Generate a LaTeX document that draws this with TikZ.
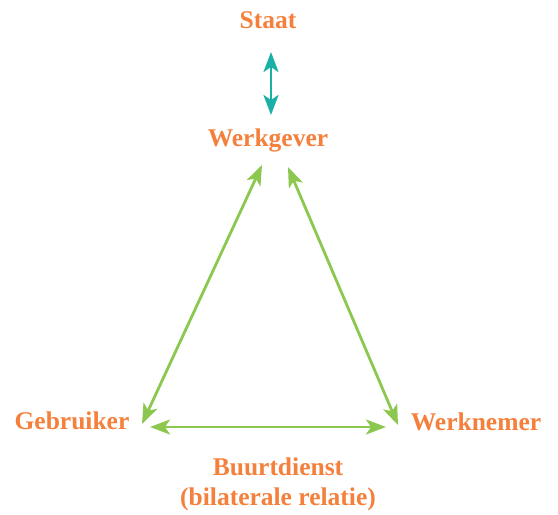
\documentclass[tikz,border=0pt]{standalone}
\usepackage{fontspec}
\setmainfont{Liberation Serif}
\usetikzlibrary{arrows.meta}
\definecolor{lbl}{HTML}{F4803C}
\definecolor{grn}{HTML}{8CC850}
\definecolor{tea}{HTML}{1AB0A6}
\begin{document}
\begin{tikzpicture}[x=1pt,y=-1pt,
  lab/.style={text=lbl,font=\fontsize{25.5}{30}\selectfont\bfseries,align=center,inner sep=0pt},
  tip/.tip={Stealth[length=20pt,width=15pt,inset=5pt]},
  garrow/.style={draw=grn,line width=2.8pt,tip-tip},
  tarrow/.style={draw=tea,line width=2.8pt,tip-tip}]
\useasboundingbox (0,0) rectangle (558,515);
\node[lab] (staat) at (268,20) {Staat};
\node[lab] (werkgever) at (268,140) {Werkgever};
\node[lab] (gebruiker) at (72,421) {Gebruiker};
\node[lab] (werknemer) at (476,422) {Werknemer};
\node[lab] (buurt) at (278,484) {Buurtdienst\\(bilaterale relatie)};
\coordinate (t1) at (271,52);
\coordinate (t2) at (271,115);
\coordinate (l1) at (262,165);
\coordinate (l2) at (142,424);
\coordinate (r1) at (288,167);
\coordinate (r2) at (398,425);
\coordinate (h1) at (150,427);
\coordinate (h2) at (386,427);
\draw[tarrow] (t1) -- (t2);
\draw[garrow] (l1) -- (l2);
\draw[garrow] (r1) -- (r2);
\draw[garrow] (h1) -- (h2);
\end{tikzpicture}
\end{document}
